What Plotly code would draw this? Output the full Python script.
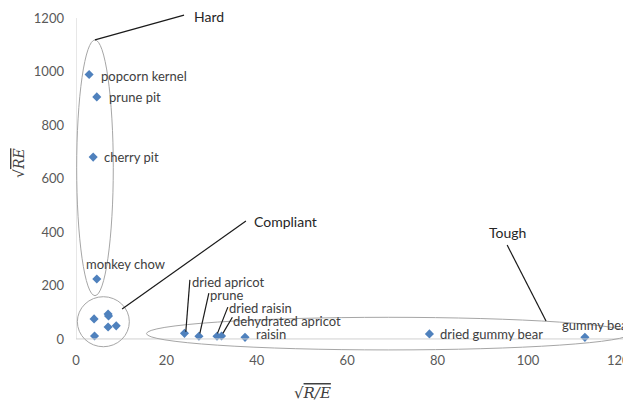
import plotly.graph_objects as go

# food data: sqrt(R/E) vs sqrt(RE)
foods = ["popcorn kernel", "prune pit", "cherry pit", "monkey chow",
         "", "", "", "", "", "",
         "dried apricot", "prune", "dried raisin", "dehydrated apricot",
         "raisin", "dried gummy bear", "gummy bear"]
sqrt_r_over_e = [2.9, 4.6, 3.8, 4.6,
                 4.0, 7.1, 7.2, 7.1, 8.9, 4.1,
                 24.0, 27.2, 31.2, 32.2, 37.4, 78.2, 112.6]
sqrt_re = [989, 905, 680, 224,
           75, 93, 86, 45, 49, 11,
           21, 10, 10, 11, 6, 19, 6]

x_ticks = [0, 20, 40, 60, 80, 100, 120]
y_ticks = [0, 200, 400, 600, 800, 1000, 1200]

# label offsets in pixels (left edge of text relative to the marker)
label_shift = {
    "popcorn kernel": (10, -2), "prune pit": (10, 0), "cherry pit": (9, 0),
    "monkey chow": (-13, 15), "dried apricot": (6, 51), "prune": (9, 41),
    "dried raisin": (10, 28), "dehydrated apricot": (9, 15), "raisin": (9, 3),
    "dried gummy bear": (9, 0), "gummy bear": (-25, 12),
}

FONT = "Lato"
LABEL_COL = "#404040"
GRAY = "#a6a6a6"

# plot area in page pixels (page has an 8px body margin)
PL, PR, PT, PB = 76, 631, 10, 351


def px2paper(px, py):
    return (px - PL) / (PR - PL), (PB - py) / (PB - PT)


fig = go.Figure()
fig.add_trace(go.Scatter(
    x=sqrt_r_over_e, y=sqrt_re, mode="markers",
    marker=dict(symbol="diamond", size=7, color="#4F81BD"),
    cliponaxis=False, showlegend=False,
))

annotations = []
for name, x, y in zip(foods, sqrt_r_over_e, sqrt_re):
    if not name:
        continue
    dx, dy = label_shift[name]
    annotations.append(dict(
        x=x, y=y, xref="x", yref="y", text=name, showarrow=False,
        xanchor="left", yanchor="middle", xshift=dx, yshift=dy,
        font=dict(family=FONT, size=13, color=LABEL_COL),
    ))

# group labels
for txt, px, py, anchor in [("Hard", 192, 17, "left"), ("Compliant", 252, 221, "left"),
                            ("Tough", 507, 232, "center")]:
    ax_, ay_ = px2paper(px, py)
    annotations.append(dict(
        x=ax_, y=ay_, xref="paper", yref="paper", text=txt,
        showarrow=False, xanchor=anchor, yanchor="middle",
        font=dict(family=FONT, size=14, color="#262626"),
    ))

# axis titles
tx, ty = px2paper(312, 393)
annotations.append(dict(
    x=tx, y=ty, xref="paper", yref="paper", showarrow=False,
    xanchor="center", yanchor="middle",
    text="√<span style='text-decoration:overline'><i>R/E</i></span>",
    font=dict(family="DejaVu Serif", size=15, color="#404040"),
))
tx, ty = px2paper(19, 163)
annotations.append(dict(
    x=tx, y=ty, xref="paper", yref="paper", showarrow=False,
    xanchor="center", yanchor="middle", textangle=-90,
    text="√<span style='text-decoration:overline'><i>RE</i></span>",
    font=dict(family="DejaVu Serif", size=14, color="#404040"),
))

shapes = [
    # axis lines
    dict(type="line", x0=0, x1=123, y0=0, y1=0, line=dict(color="#d0d0d0", width=1)),
    dict(type="line", x0=0, x1=0, y0=0, y1=1200, line=dict(color="#d0d0d0", width=1)),
    # group ellipses
    dict(type="circle", x0=0.15, x1=8.25, y0=162, y1=1118, line=dict(color=GRAY, width=1)),
    dict(type="circle", x0=0.3, x1=11.8, y0=-29, y1=158, line=dict(color=GRAY, width=1)),
    dict(type="circle", x0=15.6, x1=122.6, y0=-41, y1=81, line=dict(color=GRAY, width=1)),
]
# leader lines
leaders = [
    (4.2, 1118, 23.9, 1211), (10.2, 112, 37.6, 441), (95.4, 351, 104.0, 67),
    (25.2, 221, 24.3, 27), (29.4, 171, 27.4, 21), (33.6, 119, 31.3, 21),
    (34.6, 81, 32.5, 21),
]
for x0, y0, x1, y1 in leaders:
    shapes.append(dict(type="line", x0=x0, y0=y0, x1=x1, y1=y1,
                       line=dict(color="#1a1a1a", width=1.2)))

fig.update_layout(
    width=623, height=397,
    margin=dict(l=PL - 8, r=0, t=PT - 8, b=405 - PB),
    paper_bgcolor="white", plot_bgcolor="white",
    showlegend=False,
    annotations=annotations, shapes=shapes,
    xaxis=dict(range=[0, 122.8], tickvals=x_ticks, showgrid=False, zeroline=False,
               showline=False, ticks="", tickfont=dict(family=FONT, size=13, color="#595959")),
    yaxis=dict(range=[-45, 1230], tickvals=y_ticks, showgrid=False, zeroline=False,
               showline=False, ticks="", ticklabelstandoff=11,
               tickfont=dict(family=FONT, size=13, color="#595959")),
)

fig.write_html("out.html")
